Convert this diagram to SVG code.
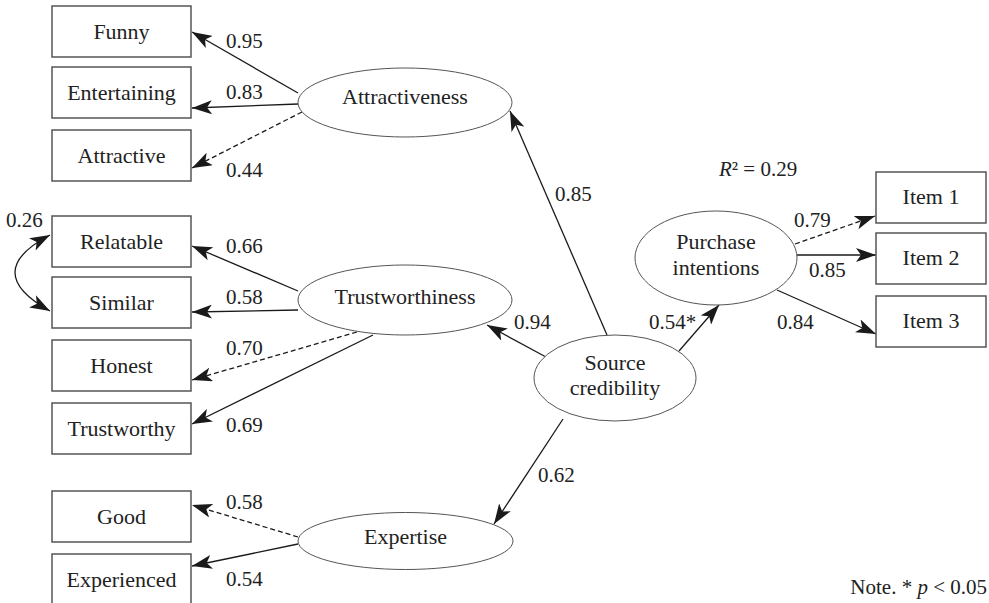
<svg xmlns="http://www.w3.org/2000/svg" width="989" height="603" viewBox="0 0 989 603">
<style>
text{font-family:'Liberation Serif','DejaVu Serif',serif;font-size:21px;fill:#222}
.c{text-anchor:middle;font-size:22px}
.box{fill:#fff;stroke:#555;stroke-width:1.5}
.ell{fill:#fff;stroke:#555;stroke-width:1}
.ln{fill:none;stroke:#1a1a1a;stroke-width:1.3;marker-end:url(#ah)}
.d{stroke-dasharray:5,3}
</style>
<defs>
<marker id="ah" viewBox="0 0 20 14" refX="20" refY="7" markerWidth="20" markerHeight="14" markerUnits="userSpaceOnUse" orient="auto-start-reverse">
<path d="M0,0 L20,7 L0,14 L5,7 z" fill="#1a1a1a"/>
</marker>
</defs>
<rect width="989" height="603" fill="#fff"/>
<g id="connectors">
<line class="ln" x1="298" y1="93" x2="192" y2="32"/>
<line class="ln" x1="298" y1="104" x2="192" y2="108"/>
<line class="ln d" x1="302" y1="112" x2="192" y2="168"/>
<line class="ln" x1="298" y1="291" x2="192" y2="246"/>
<line class="ln" x1="298" y1="310" x2="192" y2="312"/>
<line class="ln d" x1="357" y1="332" x2="192" y2="380"/>
<line class="ln" x1="373" y1="335" x2="192" y2="424"/>
<line class="ln d" x1="298" y1="537" x2="192" y2="505"/>
<line class="ln" x1="298" y1="544" x2="192" y2="566"/>
<path class="ln" style="marker-start:url(#ah)" d="M50,235 Q-20,272 50,311"/>
<line class="ln" x1="607" y1="335" x2="510" y2="111"/>
<line class="ln" x1="546" y1="357" x2="487" y2="325"/>
<line class="ln" x1="679" y1="351" x2="719" y2="305"/>
<line class="ln" x1="563" y1="419" x2="494" y2="524"/>
<line class="ln d" x1="795" y1="244" x2="875" y2="216"/>
<line class="ln" x1="797" y1="255" x2="876" y2="255"/>
<line class="ln" x1="777" y1="290" x2="876" y2="334"/>
</g>
<g id="funny"><rect class="box" x="52" y="6" width="139" height="51"/><text class="c" x="121.5" y="39">Funny</text></g>
<g id="entertaining"><rect class="box" x="52" y="67" width="139" height="51"/><text class="c" x="121.5" y="100">Entertaining</text></g>
<g id="attractive"><rect class="box" x="52" y="130" width="139" height="51"/><text class="c" x="121.5" y="162.5">Attractive</text></g>
<g id="relatable"><rect class="box" x="52" y="216" width="139" height="51"/><text class="c" x="121.5" y="248.5">Relatable</text></g>
<g id="similar"><rect class="box" x="52" y="277" width="139" height="51"/><text class="c" x="121.5" y="309.5">Similar</text></g>
<g id="honest"><rect class="box" x="52" y="340" width="139" height="51"/><text class="c" x="121.5" y="372.5">Honest</text></g>
<g id="trustworthy"><rect class="box" x="52" y="403" width="139" height="51"/><text class="c" x="121.5" y="435.5">Trustworthy</text></g>
<g id="good"><rect class="box" x="52" y="491" width="139" height="51"/><text class="c" x="121.5" y="523.5">Good</text></g>
<g id="experienced"><rect class="box" x="52" y="554" width="139" height="51"/><text class="c" x="121.5" y="586.5">Experienced</text></g>
<g id="item1"><rect class="box" x="876" y="172" width="110" height="51"/><text class="c" x="931" y="204">Item 1</text></g>
<g id="item2"><rect class="box" x="876" y="233" width="110" height="51"/><text class="c" x="931" y="265">Item 2</text></g>
<g id="item3"><rect class="box" x="876" y="296" width="110" height="51"/><text class="c" x="931" y="328">Item 3</text></g>
<g id="attractiveness"><ellipse class="ell" cx="405" cy="102.5" rx="107" ry="34.5"/><text class="c" x="405" y="104">Attractiveness</text></g>
<g id="trustworthiness"><ellipse class="ell" cx="405" cy="300" rx="107" ry="35"/><text class="c" x="405" y="304">Trustworthiness</text></g>
<g id="expertise"><ellipse class="ell" cx="405.5" cy="541" rx="107.5" ry="28.5"/><text class="c" x="405.5" y="544">Expertise</text></g>
<g id="source"><ellipse class="ell" cx="615" cy="378" rx="81" ry="43"/><text class="c" x="615" y="370">Source</text><text class="c" x="615" y="395">credibility</text></g>
<g id="purchase"><ellipse class="ell" cx="716" cy="258" rx="81" ry="47"/><text class="c" x="716" y="249">Purchase</text><text class="c" x="716" y="275">intentions</text></g>
<g id="labels">
<text x="226" y="48">0.95</text>
<text x="226" y="99">0.83</text>
<text x="226" y="177">0.44</text>
<text x="6" y="227">0.26</text>
<text x="226" y="253">0.66</text>
<text x="226" y="304">0.58</text>
<text x="226" y="355">0.70</text>
<text x="226" y="432">0.69</text>
<text x="226" y="509">0.58</text>
<text x="226" y="586">0.54</text>
<text x="555" y="201">0.85</text>
<text x="514" y="329">0.94</text>
<text x="649" y="329">0.54*</text>
<text x="538" y="482">0.62</text>
<text x="794" y="227">0.79</text>
<text x="809" y="277">0.85</text>
<text x="777" y="329">0.84</text>
<text x="719" y="176"><tspan font-style="italic">R</tspan>² = 0.29</text>
<text x="987" y="594" style="text-anchor:end">Note. * <tspan font-style="italic">p</tspan> &lt; 0.05</text>
</g>
</svg>
